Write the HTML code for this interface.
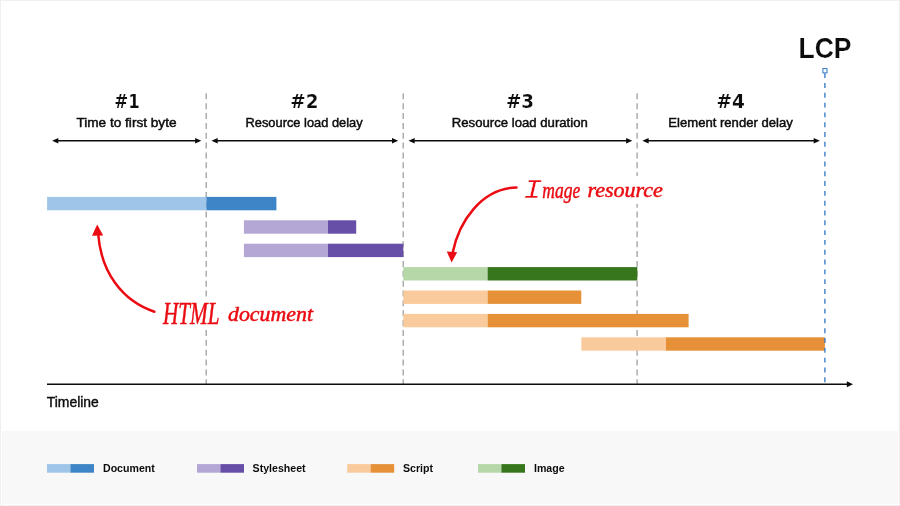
<!DOCTYPE html>
<html lang="en">
<head>
<meta charset="utf-8">
<title>LCP breakdown</title>
<style>
html,body{margin:0;padding:0;background:#fff;}
body{width:900px;height:506px;overflow:hidden;position:relative;font-family:"Liberation Sans",sans-serif;}
svg{position:absolute;left:0;top:0;display:block;}
text{font-family:"Liberation Sans",sans-serif;fill:#0c0c0c;}
.num{font-family:"DejaVu Sans","Liberation Sans",sans-serif;font-size:18.8px;font-weight:bold;stroke:#fff;stroke-width:0.2px;}
.sub{font-size:12.6px;stroke:#0c0c0c;stroke-width:0.45px;}
.lcp{font-size:28.6px;font-weight:bold;stroke:#fff;stroke-width:0.15px;}
.tl{font-size:13.9px;stroke:#0c0c0c;stroke-width:0.4px;}
.leg{font-size:10.6px;font-weight:bold;}
.hand{font-family:"Liberation Serif",serif;font-style:italic;fill:#ea0c12;stroke:#ea0c12;stroke-width:0.5px;}
</style>
</head>
<body>
<svg width="900" height="506" viewBox="0 0 900 506">
  <rect x="0" y="0" width="900" height="506" fill="#fff"/>
  <rect x="2" y="430.9" width="896" height="73.1" fill="#f8f8f8"/>
  <rect x="0.5" y="0.5" width="899" height="505" fill="none" stroke="#f0f0f0" stroke-width="1"/>

  <!-- dashed separators -->
  <g stroke="#a0a0a0" stroke-width="1.3" stroke-dasharray="6 3.86" fill="none">
    <line x1="206.2" y1="93.3" x2="206.2" y2="384"/>
    <line x1="403.2" y1="93.3" x2="403.2" y2="384"/>
    <line x1="637.1" y1="93.3" x2="637.1" y2="384"/>
  </g>

  <!-- bars -->
  <g>
    <rect x="47.1" y="196.9" width="159.3" height="13.4" fill="#9fc5e8"/>
    <rect x="206.4" y="196.9" width="70.0" height="13.4" fill="#3d85c6"/>
    <rect x="243.9" y="220.3" width="84.1" height="13.4" fill="#b4a7d6"/>
    <rect x="328.0" y="220.3" width="28.2" height="13.4" fill="#674ea7"/>
    <rect x="243.9" y="243.7" width="84.1" height="13.4" fill="#b4a7d6"/>
    <rect x="328.0" y="243.7" width="75.3" height="13.4" fill="#674ea7"/>
    <rect x="403.3" y="267.1" width="84.3" height="13.4" fill="#b6d7a8"/>
    <rect x="487.6" y="267.1" width="149.7" height="13.4" fill="#38761d"/>
    <rect x="403.3" y="290.5" width="84.3" height="13.4" fill="#f9cb9c"/>
    <rect x="487.6" y="290.5" width="93.7" height="13.4" fill="#e69138"/>
    <rect x="403.3" y="313.9" width="84.3" height="13.4" fill="#f9cb9c"/>
    <rect x="487.6" y="313.9" width="201.0" height="13.4" fill="#e69138"/>
    <rect x="581.3" y="337.3" width="84.6" height="13.4" fill="#f9cb9c"/>
    <rect x="665.9" y="337.3" width="159.0" height="13.4" fill="#e69138"/>
  </g>

  <!-- LCP marker -->
  <line x1="824.9" y1="73.2" x2="824.9" y2="384" stroke="#2f76c2" stroke-width="1.3" stroke-dasharray="4.9 4.91"/>
  <rect x="822.9" y="68.6" width="4.1" height="4.3" fill="#fff" stroke="#2f76c2" stroke-width="1"/>

  <!-- axis -->
  <line x1="47" y1="384.2" x2="848" y2="384.2" stroke="#0c0c0c" stroke-width="1.5"/>
  <polygon points="853,384.2 846.8,381.2 846.8,387.2" fill="#0c0c0c"/>

  <!-- span arrows -->
  <g stroke="#0c0c0c" stroke-width="1.5" fill="#0c0c0c">
    <line x1="57.3" y1="140.8" x2="196.1" y2="140.8"/>
    <polygon points="52.1,140.8 58.3,138.0 58.3,143.6" stroke="none"/>
    <polygon points="201.3,140.8 195.1,138.0 195.1,143.6" stroke="none"/>
    <line x1="216.7" y1="140.8" x2="393.0" y2="140.8"/>
    <polygon points="211.5,140.8 217.7,138.0 217.7,143.6" stroke="none"/>
    <polygon points="398.2,140.8 392.0,138.0 392.0,143.6" stroke="none"/>
    <line x1="413.7" y1="140.8" x2="627.1" y2="140.8"/>
    <polygon points="408.5,140.8 414.7,138.0 414.7,143.6" stroke="none"/>
    <polygon points="632.3,140.8 626.1,138.0 626.1,143.6" stroke="none"/>
    <line x1="647.6" y1="140.8" x2="814.7" y2="140.8"/>
    <polygon points="642.4,140.8 648.6,138.0 648.6,143.6" stroke="none"/>
    <polygon points="819.9,140.8 813.7,138.0 813.7,143.6" stroke="none"/>
  </g>

  <!-- labels -->
  <text class="num" transform="translate(114.3 107.8) scale(0.885 1)">#1</text>
  <text class="sub" transform="translate(76.4 127.0) scale(1.082 1)">Time to first byte</text>
  <text class="num" transform="translate(290.3 107.8) scale(0.975 1)">#2</text>
  <text class="sub" transform="translate(245.5 127.0) scale(1.02 1)">Resource load delay</text>
  <text class="num" transform="translate(506.0 107.8) scale(0.975 1)">#3</text>
  <text class="sub" transform="translate(451.8 127.0) scale(1.045 1)">Resource load duration</text>
  <text class="num" transform="translate(716.4 107.8) scale(0.985 1)">#4</text>
  <text class="sub" transform="translate(668.3 127.0) scale(1.04 1)">Element render delay</text>
  <text class="lcp" transform="translate(798.6 58.0) scale(0.925 1)">LCP</text>
  <text class="tl" transform="translate(46.8 406.8) scale(1.0 1)">Timeline</text>
  <text class="leg" transform="translate(103.0 472.4) scale(1.0 1)">Document</text>
  <text class="leg" transform="translate(252.6 472.4) scale(1.0 1)">Stylesheet</text>
  <text class="leg" transform="translate(403.0 472.4) scale(1.0 1)">Script</text>
  <text class="leg" transform="translate(534.0 472.4) scale(1.0 1)">Image</text>

  <!-- handwritten annotations -->
  <rect x="521" y="176" width="146" height="28" fill="#fff"/>
  <text class="hand"><tspan x="523.3" y="198" font-size="28" textLength="19.0" lengthAdjust="spacingAndGlyphs" style="font-family:'Liberation Mono',monospace;stroke:#fff;stroke-width:0.35px">I</tspan><tspan x="542.3" y="197.6" font-size="23.5" textLength="38.0" lengthAdjust="spacingAndGlyphs">mage</tspan> <tspan x="587.4" y="197.4" font-size="21.8" textLength="75.5" lengthAdjust="spacingAndGlyphs">resource</tspan></text>
  <path d="M516.5,187.5 C481.4,188.3 458.8,221.8 452.6,253" fill="none" stroke="#ea0c12" stroke-width="2.5" stroke-linecap="round"/>
  <polygon points="451.6,262.4 446.8,251.6 457.2,252.2" fill="#ea0c12"/>

  <rect x="159" y="298" width="157" height="30" fill="#fff"/>
  <text class="hand"><tspan x="163" y="323.6" font-size="31.5" textLength="56.5" lengthAdjust="spacingAndGlyphs">HTML</tspan> <tspan x="228" y="321.4" font-size="21.8" textLength="85.0" lengthAdjust="spacingAndGlyphs">document</tspan></text>
  <path d="M154.4,311.7 C122,301 101,272 98.2,234" fill="none" stroke="#ea0c12" stroke-width="2.5" stroke-linecap="round"/>
  <polygon points="97.2,224.6 92,235.8 103.2,235.4" fill="#ea0c12"/>

  <!-- legend -->
  <g>
    <rect x="47.0" y="464.1" width="23.4" height="8.6" fill="#9fc5e8"/>
    <rect x="70.4" y="464.1" width="23.6" height="8.6" fill="#3d85c6"/>
    <rect x="197.0" y="464.1" width="23.4" height="8.6" fill="#b4a7d6"/>
    <rect x="220.4" y="464.1" width="23.6" height="8.6" fill="#674ea7"/>
    <rect x="347.2" y="464.1" width="23.4" height="8.6" fill="#f9cb9c"/>
    <rect x="370.59999999999997" y="464.1" width="23.6" height="8.6" fill="#e69138"/>
    <rect x="478.0" y="464.1" width="23.4" height="8.6" fill="#b6d7a8"/>
    <rect x="501.4" y="464.1" width="23.6" height="8.6" fill="#38761d"/>
  </g>
</svg>
</body>
</html>
